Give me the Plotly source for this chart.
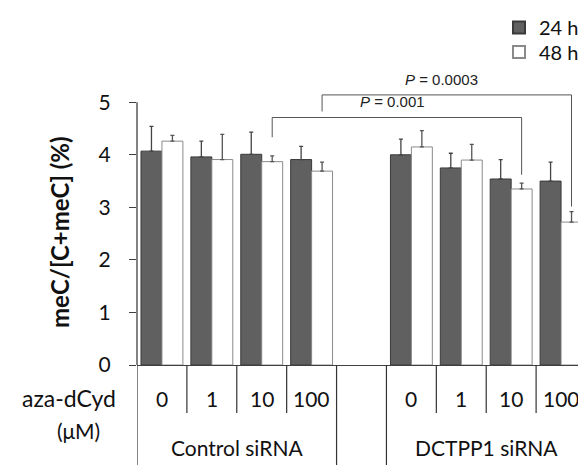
import plotly.graph_objects as go

# ---- data ----
doses = ["0", "1", "10", "100"]
groups = ["Control siRNA", "DCTPP1 siRNA"]
x_pos = [0, 1, 2, 3, 5, 6, 7, 8]
vals_24h = [4.07, 3.96, 4.01, 3.91, 4.00, 3.75, 3.54, 3.50]
err_24h = [0.47, 0.30, 0.42, 0.25, 0.30, 0.28, 0.37, 0.36]
vals_48h = [4.26, 3.91, 3.87, 3.69, 4.15, 3.90, 3.35, 2.72]
err_48h = [0.11, 0.48, 0.11, 0.17, 0.31, 0.30, 0.11, 0.20]
yticks = [0, 1, 2, 3, 4, 5]
pvals = ["0.001", "0.0003"]

FONT = "Lato"
# page body has an 8px margin; figure sized so that it fills the window
W, H = 578, 457
ML, MR, MT, MB = 129, 0, 68, 100
PW, PH = W - ML - MR, H - MT - MB


def fx(rx):  # reference-picture pixel x -> paper x
    return (rx - 8 - ML) / PW


def fy(ry):  # reference-picture pixel y -> paper y
    return (H - MB - (ry - 8)) / PH


fig = go.Figure()
fig.add_trace(go.Bar(
    x=x_pos, y=vals_24h, name="24 h", legend="legend",
    marker=dict(color="#606060", line=dict(color="#3a3a3a", width=1)),
    error_y=dict(type="data", symmetric=False, array=err_24h,
                 arrayminus=[0] * len(err_24h), color="#444444",
                 thickness=1.3, width=2),
))
fig.add_trace(go.Bar(
    x=x_pos, y=vals_48h, name="48 h", legend="legend2",
    marker=dict(color="#ffffff", line=dict(color="#8a8a8a", width=1)),
    error_y=dict(type="data", symmetric=False, array=err_48h,
                 arrayminus=[0] * len(err_48h), color="#555555",
                 thickness=1.3, width=2),
))

shapes = []
annotations = []

# y axis line 0..5
shapes.append(dict(type="line", xref="paper", yref="y", x0=0, x1=0,
                   y0=0, y1=yticks[-1], line=dict(color="#404040", width=1.3)))

# table lines below the axis
short_bottom = fy(413)
long_bottom = fy(470)
long_set = {-0.5, 3.5, 4.5}
for i in range(9):
    b = -0.5 + i
    yb = long_bottom if b in long_set else short_bottom
    shapes.append(dict(type="line", xref="x", yref="paper", x0=b, x1=b,
                       y0=0, y1=yb, line=dict(color="#333333", width=1.2)))

txt = dict(showarrow=False, xanchor="center", yanchor="middle")
# dose labels and group labels
for gi, base in enumerate([0, 5]):
    for di, d in enumerate(doses):
        annotations.append(dict(x=base + di, y=fy(398), xref="x", yref="paper",
                                text=d, font=dict(family=FONT, size=21, color="#111"), **txt))
    annotations.append(dict(x=base + 1.5, y=fy(447), xref="x", yref="paper",
                            text=groups[gi],
                            font=dict(family=FONT, size=21, color="#111"), **txt))

annotations.append(dict(x=fx(118), y=fy(398), xref="paper", yref="paper",
                        text="aza-dCyd", showarrow=False, xanchor="right", yanchor="middle",
                        font=dict(family=FONT, size=23, color="#111")))
annotations.append(dict(x=fx(78), y=fy(430), xref="paper", yref="paper",
                        text="(\u03bcM)", font=dict(family=FONT, size=21, color="#111"), **txt))

# y axis title (centred on the 0-5 span, as in the reference)
annotations.append(dict(x=fx(59), y=fy(232), xref="paper", yref="paper",
                        text="<b>meC/[C+meC] (%)</b>", textangle=-90,
                        font=dict(family=FONT, size=24, color="#111"), **txt))

# significance brackets
brackets = [
    (2.21, 7.21, 4.71, 4.335, 3.62, 5.01, pvals[0], 4.63),
    (3.21, 8.21, 5.14, 4.825, 3.015, 5.44, pvals[1], 5.6),
]
for xl, xr, yh, yl, yr, ty, p, tx in brackets:
    shapes.append(dict(type="path", xref="x", yref="y",
                       path=f"M {xl},{yl} L {xl},{yh} L {xr},{yh} L {xr},{yr}",
                       line=dict(color="#555555", width=1)))
    annotations.append(dict(x=tx, y=ty, xref="x", yref="y",
                            text=f"<i>P</i> = {p}", showarrow=False,
                            font=dict(family="Liberation Sans", size=15, color="#222")))

# panel letter (cut off at the top)
annotations.append(dict(x=fx(35), y=fy(12), xref="paper", yref="paper",
                        text="<b>B</b>", showarrow=False, xanchor="center", yanchor="bottom",
                        font=dict(family=FONT, size=24, color="#111")))

leg = dict(xanchor="left", bgcolor="rgba(0,0,0,0)",
           font=dict(family=FONT, size=20, color="#111"), itemsizing="constant")

fig.update_layout(
    width=W, height=H,
    margin=dict(l=ML, r=MR, t=MT, b=MB, pad=0),
    paper_bgcolor="white", plot_bgcolor="white",
    barmode="group", bargap=0.16, bargroupgap=0,
    showlegend=True,
    legend=dict(x=fx(499), y=fy(8), yanchor="top", **leg),
    legend2=dict(x=fx(499), y=fy(52), yanchor="middle", **leg),
    xaxis=dict(range=[-0.5, 8.5], showgrid=False, zeroline=False,
               showticklabels=False, ticks="", showline=True,
               linecolor="#404040", linewidth=1.3, fixedrange=True),
    yaxis=dict(range=[0, 5.5], tickvals=yticks, showgrid=False, zeroline=False,
               showline=False, ticks="outside", ticklen=7, tickcolor="#404040",
               tickwidth=1.3, ticklabelstandoff=14,
               tickfont=dict(family=FONT, size=21, color="#111"),
               automargin=False),
    shapes=shapes, annotations=annotations,
)

fig.write_html("out.html")
